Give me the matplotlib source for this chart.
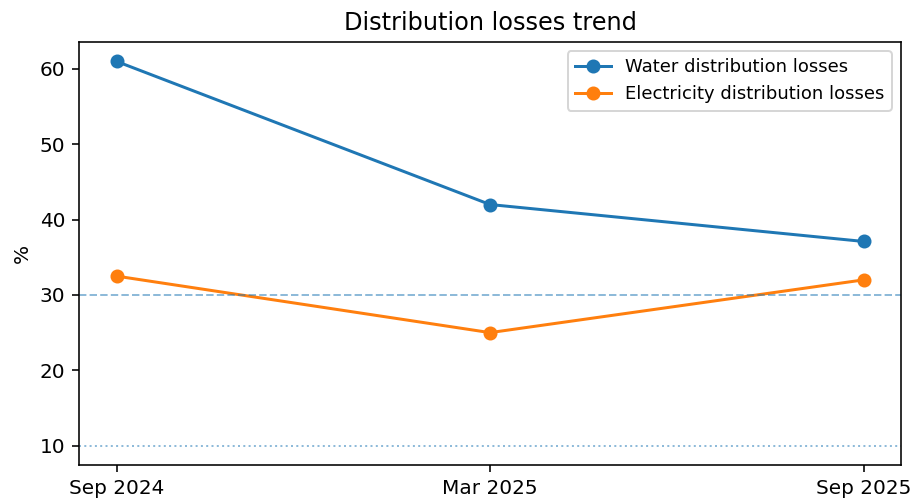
import matplotlib
matplotlib.use("Agg")
import matplotlib.pyplot as plt

periods = ["Sep 2024", "Mar 2025", "Sep 2025"]
water = [61.0, 42.0, 37.1]
electricity = [32.5, 25.0, 32.0]
ref_dashed = 30
ref_dotted = 10

DPI = 144
fig = plt.figure(figsize=(910 / DPI, 502 / DPI), dpi=DPI)
ax = fig.add_axes([0.087, 0.074, 0.903, 0.842])
ax.plot(periods, water, marker="o", label="Water distribution losses")
ax.plot(periods, electricity, marker="o", label="Electricity distribution losses")
ax.axhline(ref_dashed, linestyle="--", color="C0", alpha=0.5, linewidth=1)
ax.axhline(ref_dotted, linestyle=":", color="C0", alpha=0.5, linewidth=1)
ax.set_title("Distribution losses trend")
ax.set_ylabel("%")
ax.legend(loc="upper right", fontsize=9)
fig.savefig("out.png", dpi=DPI)
